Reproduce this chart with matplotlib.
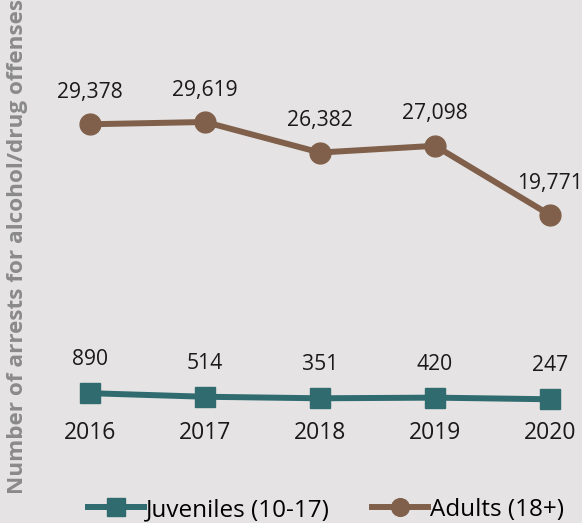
import matplotlib
matplotlib.use("Agg")
import matplotlib.pyplot as plt
from matplotlib.lines import Line2D

years = ["2016", "2017", "2018", "2019", "2020"]
juveniles = [890, 514, 351, 420, 247]
adults = [29378, 29619, 26382, 27098, 19771]

BG = "#e5e3e3"
TEAL = "#2f6b6f"
BROWN = "#80604a"
FONT = "Open Sans"

W, H = 582, 523
fig = plt.figure(figsize=(W / 100, H / 100), dpi=100, facecolor=BG)

# axes geometry (pixels)
x0_px, step_px = 90, 115
xlim = (-0.5, 4.25)
ax_left = x0_px + xlim[0] * step_px
ax_right = x0_px + xlim[1] * step_px
ax_bottom_px, ax_top_px = 410, 40
ax = fig.add_axes([ax_left / W, 1 - ax_bottom_px / H,
                   (ax_right - ax_left) / W, (ax_bottom_px - ax_top_px) / H])
ax.set_facecolor(BG)
ax.set_xlim(*xlim)
ax.set_ylim(-890, 38305)

xs = list(range(len(years)))
ax.plot(xs, adults, color=BROWN, lw=4.3, marker="o", ms=15, clip_on=False,
        label="Adults (18+)", zorder=3)
ax.plot(xs, juveniles, color=TEAL, lw=4.3, marker="s", ms=15, clip_on=False,
        label="Juveniles (10-17)", zorder=3)

for x, v in zip(xs, adults):
    ax.annotate(f"{v:,}", (x, v), xytext=(0, 23), textcoords="offset points",
                ha="center", va="center", fontsize=15.2, color="#1a1a1a",
                family=FONT)
for x, v in zip(xs, juveniles):
    ax.annotate(f"{v:,}", (x, v), xytext=(0, 24), textcoords="offset points",
                ha="center", va="center", fontsize=15.2, color="#1a1a1a",
                family=FONT)

ax.set_xticks(xs)
ax.set_xticklabels(years, fontsize=16.5, color="#1a1a1a", family=FONT)
ax.tick_params(axis="x", length=0, pad=8)
ax.set_yticks([])
for s in ax.spines.values():
    s.set_visible(False)

fig.text(18 / W, 1 - 246 / H, "Number of arrests for alcohol/drug offenses",
         rotation=90, ha="center", va="center", fontsize=16.2,
         fontweight="bold", color="#8a8a8a", family=FONT)

handles = [
    Line2D([], [], color=TEAL, lw=4.3, marker="s", ms=15),
    Line2D([], [], color=BROWN, lw=4.3, marker="o", ms=15),
]
fig.legend(handles, ["Juveniles (10-17)", "Adults (18+)"],
           loc="center", bbox_to_anchor=(326 / W, 1 - 510 / H), ncol=2,
           frameon=False, handlelength=2.3, handletextpad=0.1,
           columnspacing=1.7, prop={"family": FONT, "size": 17.5},
           markerscale=0.85)

fig.savefig("out.png", dpi=100, facecolor=BG)
